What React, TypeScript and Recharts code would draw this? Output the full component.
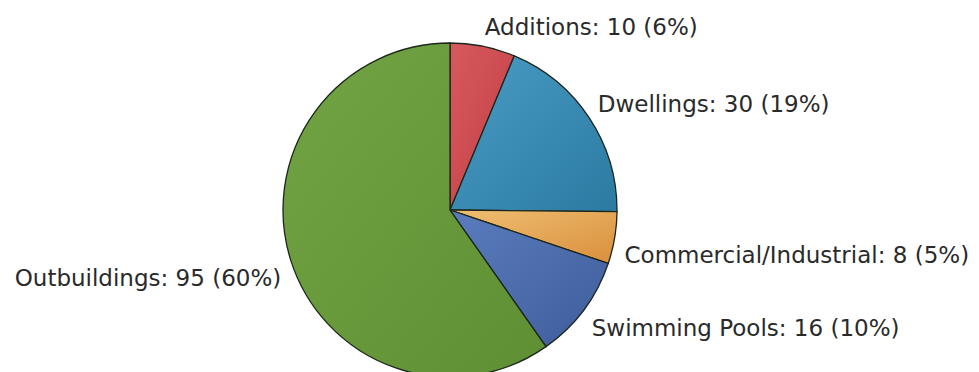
import React from 'react';
import { PieChart, Pie, Cell } from 'recharts';

const categories = ['Additions', 'Dwellings', 'Commercial/Industrial', 'Swimming Pools', 'Outbuildings'];
const counts = [10, 30, 8, 16, 95];

const sliceColors = [
  ['#d65a5e', '#c23d44'],
  ['#4b9cc4', '#2a7aa2'],
  ['#efbf72', '#d98f3c'],
  ['#5b7dbd', '#3e5c9c'],
  ['#72a444', '#5e8f33'],
];

const RADIAN = Math.PI / 180;

const renderLabel = (props: any) => {
  const { cx, cy, midAngle, outerRadius, index, value, percent } = props;
  const r = outerRadius + 10;
  const cos = Math.cos(-midAngle * RADIAN);
  const sin = Math.sin(-midAngle * RADIAN);
  const x = cx + r * cos;
  const y = cy + r * sin;
  // labels above the centre sit on the point, those below hang from it
  // (pushed a little lower the flatter the angle)
  const dy = sin < 0 ? -1 : 17 + 8 * (1 - sin);
  return (
    <text
      x={x}
      y={y}
      dy={dy}
      textAnchor={cos >= 0 ? 'start' : 'end'}
      fill="#2a2a2a"
      fontSize={23}
      fontFamily="'DejaVu Sans', Verdana, sans-serif"
    >
      {`${categories[index]}: ${value} (${Math.round(percent * 100)}%)`}
    </text>
  );
};

const data = categories.map((name, i) => ({ name, value: counts[i] }));

export default function App() {
  return (
    <div style={{ position: 'absolute', left: 0, top: 0, width: 979, height: 372, background: '#fff' }}>
      <PieChart width={979} height={372} margin={{ top: 0, right: 0, bottom: 0, left: 0 }}>
        <defs>
          {sliceColors.map((c, i) => (
            <linearGradient key={i} id={`slice-${i}`} x1="0" y1="0" x2="1" y2="1">
              <stop offset="0%" stopColor={c[0]} />
              <stop offset="100%" stopColor={c[1]} />
            </linearGradient>
          ))}
        </defs>
        <Pie
          data={data}
          dataKey="value"
          nameKey="name"
          cx={450}
          cy={210}
          outerRadius={167}
          startAngle={90}
          endAngle={-270}
          stroke="#1c261c"
          strokeWidth={1.3}
          label={renderLabel}
          labelLine={false}
          isAnimationActive={false}
        >
          {data.map((entry, index) => (
            <Cell key={`cell-${index}`} fill={`url(#slice-${index})`} />
          ))}
        </Pie>
      </PieChart>
    </div>
  );
}
